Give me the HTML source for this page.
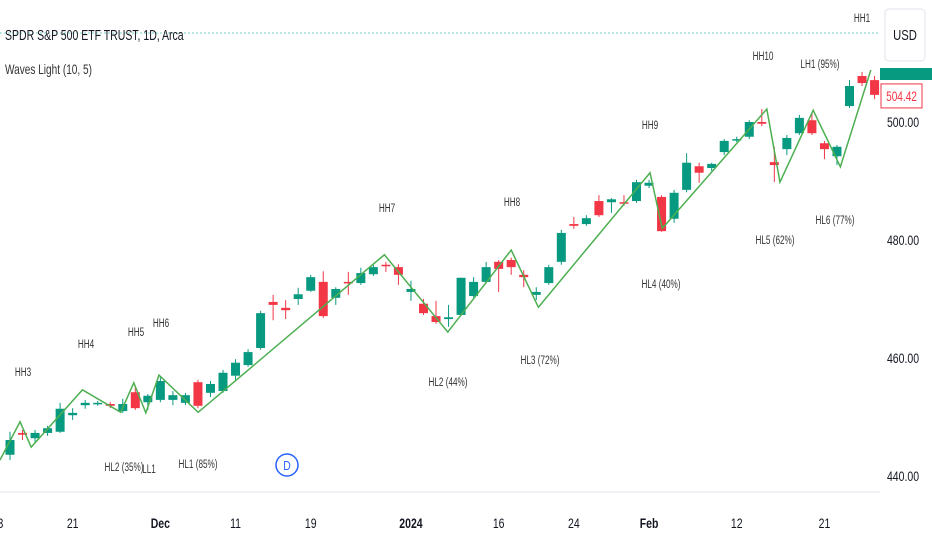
<!DOCTYPE html>
<html><head><meta charset="utf-8">
<style>
html,body{margin:0;padding:0;background:#fff;}
svg{display:block;font-family:"Liberation Sans",sans-serif;}
</style></head>
<body>
<svg id="chart" width="932" height="550" viewBox="0 0 932 550" xmlns="http://www.w3.org/2000/svg">
<rect width="932" height="550" fill="#fff"/>
<line x1="0" y1="33" x2="880" y2="33" stroke="#7fcfc4" stroke-width="1" stroke-dasharray="2,2"/>
<line x1="0" y1="492" x2="880" y2="492" stroke="#e0e3eb" stroke-width="1"/>
<g id="candles"></g>
<g id="wave"></g>
<g id="yaxis"></g>
<g id="xaxis"></g>
<g id="labels"></g>
<text transform="translate(5,40) scale(0.7,1)" font-size="15" fill="#131722">SPDR S&amp;P 500 ETF TRUST, 1D, Arca</text>
<text transform="translate(5,74) scale(0.72,1)" font-size="14" fill="#333">Waves Light (10, 5)</text>
<rect x="885" y="9" width="40" height="52" rx="4" fill="#fff" stroke="#e0e3eb"/>
<text transform="translate(905,40) scale(0.75,1)" font-size="15" fill="#131722" text-anchor="middle">USD</text>
<circle cx="287" cy="465" r="11" fill="#fff" stroke="#2962ff" stroke-width="1.5"/>
<text transform="translate(287,470) scale(0.8,1)" font-size="13" fill="#2962ff" text-anchor="middle">D</text>
</svg>
<script>
const opens=[443.6,447.3,446.4,447.3,447.5,450.3,452.0,452.2,452.2,451.0,454.2,452.5,452.9,452.9,452.4,455.9,454.1,454.4,457.0,458.8,461.7,469.5,468.5,470.0,471.4,472.9,470.2,472.9,472.7,474.2,475.8,475.4,471.2,469.2,467.1,466.6,467.3,470.5,472.9,476.3,476.6,474.1,470.7,472.7,476.3,482.7,482.7,486.6,486.4,486.4,486.6,489.2,487.3,483.6,488.5,492.5,492.2,494.9,496.9,497.5,500.0,493.2,495.4,498.1,500.3,496.4,494.2,502.7,507.8,507.1];
const closes=[446.1,447.0,447.3,448.1,451.4,450.7,452.4,452.4,451.9,452.2,451.5,453.6,456.1,453.7,453.7,451.9,455.6,457.5,459.2,461.0,467.6,469.0,468.1,470.8,473.7,467.1,471.7,472.7,474.4,475.4,475.6,474.1,471.7,467.6,466.1,466.9,473.6,472.9,475.4,475.1,475.4,473.7,471.2,475.4,481.2,482.4,483.7,484.2,486.9,486.3,489.8,489.7,481.5,488.0,493.1,491.4,492.9,496.8,497.1,500.0,499.7,492.7,497.3,500.7,498.1,495.4,495.8,506.1,506.6,504.6];
const highs=[447.5,447.8,447.8,448.5,452.4,451.5,452.9,452.7,452.5,453.1,455.3,453.9,456.8,454.4,454.1,456.3,456.1,458.0,459.8,461.5,468.0,470.7,469.8,471.9,474.1,474.7,472.0,474.6,475.3,475.8,476.3,475.9,473.1,470.0,469.7,469.0,473.6,473.7,476.3,476.6,477.0,474.9,472.0,475.8,481.7,483.9,484.2,487.6,487.1,487.6,490.2,490.2,487.6,488.5,494.7,493.1,493.1,497.1,497.5,500.3,502.2,495.8,497.8,501.2,501.5,496.8,496.1,507.1,508.5,507.8];
const lows=[442.7,446.1,445.8,446.8,447.3,449.5,451.4,451.9,451.5,450.7,451.2,451.2,452.5,452.0,452.0,451.5,453.4,454.1,456.3,458.5,461.4,466.4,466.6,469.0,471.2,466.8,469.0,470.7,472.4,473.9,474.6,472.4,469.7,467.3,465.8,465.3,467.1,470.2,472.7,471.2,474.1,472.0,469.8,472.4,475.8,481.9,482.4,483.9,484.6,485.8,486.3,488.8,481.4,482.9,488.1,489.7,491.7,494.4,496.6,497.1,499.3,489.8,494.4,497.8,497.8,493.7,492.7,502.4,506.1,503.9];
const waveIdx=[-0.8,0.8,1.69,5.78,8.84,9.88,10.84,11.89,15.02,29.88,34.94,40.0,42.17,51.08,52.05,52.45,60.4,61.45,64.1,66.27,68.7];
const wavePrice=[442.7,449.2,444.9,454.6,450.8,455.8,450.7,457.1,450.8,477.5,464.4,478.3,468.6,491.4,482.0,482.9,502.2,489.8,502.0,492.4,508.8];
const yTicks=[500,480,460,440];
const yTickText=["500.00","480.00","460.00","440.00"];
const xTickIdx=[-1,5,12,18,24,32,39,45,51,58,65];
const xTickText=["13","21","Dec","11","19","2024","16","24","Feb","12","21"];
const lastPrice=504.42;

const NS="http://www.w3.org/2000/svg";
function X(i){return 10+i*12.53;}
function Y(p){return 122+(500-p)*5.9;}
function mk(tag,attrs,parent){const e=document.createElementNS(NS,tag);for(const k in attrs)e.setAttribute(k,attrs[k]);parent.appendChild(e);return e;}
function ctext(parent,x,y,str,size,fill,anchor,sx,bold){
  const t=mk('text',{transform:'translate('+x+','+y+') scale('+sx+',1)','font-size':size,fill:fill,'text-anchor':anchor},parent);
  if(bold)t.setAttribute('font-weight','bold');
  t.textContent=str;return t;
}
const cg=document.getElementById('candles');
for(let i=0;i<opens.length;i++){
  const up=closes[i]>=opens[i];const col=up?'#089981':'#f23645';
  const x=X(i);
  const w=mk('line',{x1:x,x2:x,y1:Y(highs[i]),y2:Y(lows[i]),stroke:col,'stroke-width':1},cg);
  
  
  const top=Y(Math.max(opens[i],closes[i])),bot=Y(Math.min(opens[i],closes[i]));
  const r=mk('rect',{x:x-4.5,y:top,width:9,height:Math.max(1.5,bot-top),fill:col},cg);
  
  
}
const wg=document.getElementById('wave');
const pts=waveIdx.map((v,i)=>X(v)+','+Y(wavePrice[i])).join(' ');
const pl=mk('polyline',{points:pts,fill:'none',stroke:'#4caf50','stroke-width':1.5},wg);


const yg=document.getElementById('yaxis');
yTicks.forEach((v,i)=>{
  const t=ctext(yg,903,Y(v)+5,yTickText[i],14,'#131722','middle',0.75,false);
  
  
});
const gt=mk('rect',{x:880,y:68,width:52,height:12,fill:'#089981'},yg);


const pb=mk('rect',{x:881,y:Y(lastPrice)-12,width:41,height:24,fill:'#fff',stroke:'#f23645'},yg);


const pt=ctext(yg,901.5,Y(lastPrice)+5,lastPrice.toFixed(2),14,'#f23645','middle',0.72,false);


const xg=document.getElementById('xaxis');
xTickIdx.forEach((v,i)=>{
  const bold=xTickText[i]==='Dec'||xTickText[i]==='2024'||xTickText[i]==='Feb';
  const t=ctext(xg,X(v),528,xTickText[i],14,'#131722','middle',0.75,bold);
  
  
});
const labelText=["HH1","HH10","LH1 (95%)","HH9","HH8","HH7","HL4 (40%)","HL5 (62%)","HL6 (77%)","HL3 (72%)","HL2 (44%)","HH3","HH4","HH5","HH6","HL2 (35%)","LL1","HL1 (85%)"];
const labelX=[862,763,820,650,512,387,661,775,835,540,448,23,86,136,161,124,149,198];
const labelY=[18,56,64,125,202,208,284,240,220,360,382,372,344,332,323,467,469,464];
const lg=document.getElementById('labels');
labelText.forEach((s,i)=>{
  const t=ctext(lg,labelX[i],labelY[i]+4,s,12,'#333','middle',0.68,false);
  
  
});
</script>
</body></html>
